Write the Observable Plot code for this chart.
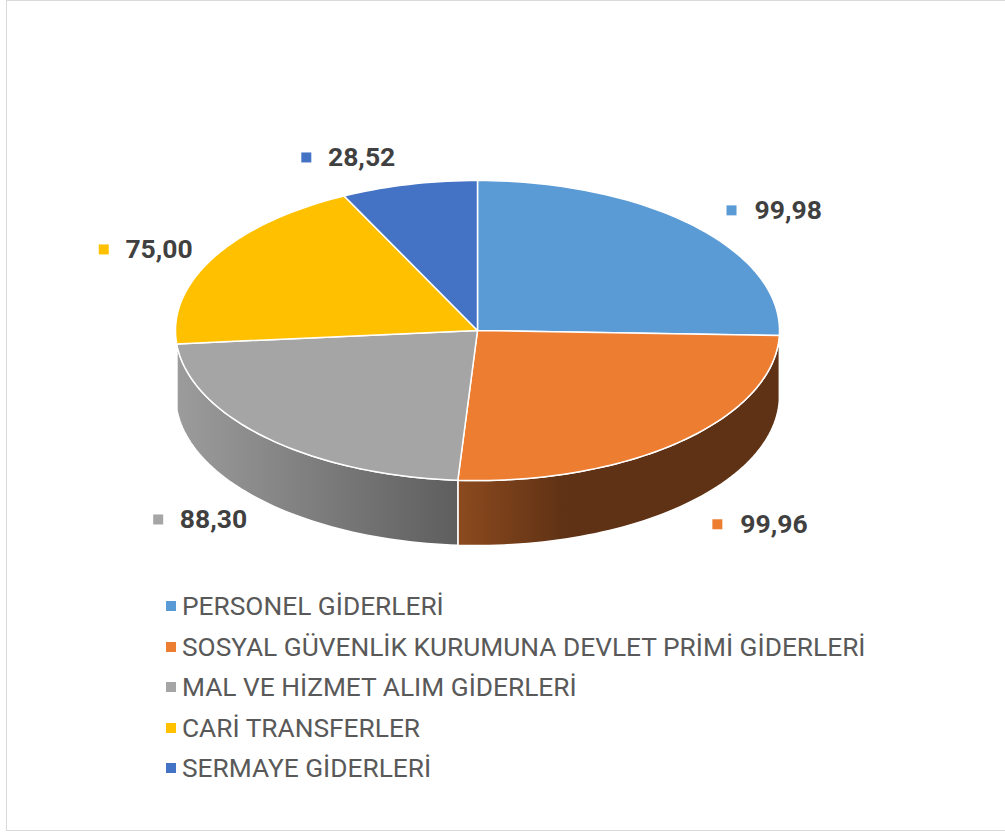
<!DOCTYPE html>
<html>
<head>
<meta charset="utf-8">
<script src="https://cdn.jsdelivr.net/npm/d3@7"></script>
<script src="https://cdn.jsdelivr.net/npm/@observablehq/plot@0.6"></script>
<style>
  body { margin: 0; background: #fff; }
  #wrap { position: relative; width: 1005px; height: 834px; overflow: hidden; font-family: Roboto, "Open Sans", sans-serif; }
  #frame { position: absolute; left: 6px; top: 0; width: 1012px; height: 831px; border: 1.5px solid #D9D9D9; box-sizing: border-box; }
  #chart { position: absolute; left: 0; top: 0; }
  #legend { position: absolute; left: 166px; top: 586px; }
  .row { display: flex; align-items: center; height: 40.5px; font-size: 26.3px; color: #595959; white-space: nowrap; }
  .sw { width: 10px; height: 10px; margin-right: 6px; flex: none; }
</style>
</head>
<body>
<div id="wrap"><div id="frame"></div><div id="chart"></div><div id="legend"></div></div>
<script>
// ---- data ----
const categories = [
  "PERSONEL GİDERLERİ",
  "SOSYAL GÜVENLİK KURUMUNA DEVLET PRİMİ GİDERLERİ",
  "MAL VE HİZMET ALIM GİDERLERİ",
  "CARİ TRANSFERLER",
  "SERMAYE GİDERLERİ"
];
const values = [99.98, 99.96, 88.30, 75.00, 28.52];
const valueLabels = ["99,98", "99,96", "88,30", "75,00", "28,52"];

// ---- styles ----
const colors = ["#5B9BD5", "#ED7D31", "#A5A5A5", "#FFC000", "#4472C4"];
const sideLight = ["#3F75A8", "#8C4A1E", "#9C9C9C", "#C79600", "#30548F"];
const sideDark  = ["#2D5577", "#5F3215", "#5E5E5E", "#8F6C00", "#233E6A"];

// ---- layout (pixels) ----
const W = 1005, H = 580;
const CX = 477, CY = 330, RX = 302;
const TILT = 150 / 302;      // vertical squash of the top ellipse
const DEPTH = 65 / 302;      // thickness of the pie

const arcs = d3.pie().sort(null).value(d => d)(values);

function arcPts(a0, a1, off) {
  const n = Math.max(2, Math.ceil((a1 - a0) / (2 * Math.PI) * 240));
  const pts = [];
  for (let i = 0; i <= n; i++) {
    const t = a0 + (a1 - a0) * i / n;
    pts.push({x: Math.sin(t), y: TILT * Math.cos(t) - off});
  }
  return pts;
}

// top faces
const topPts = [];
arcs.forEach((a, i) => {
  const pts = [{x: 0, y: 0}, ...arcPts(a.startAngle, a.endAngle, 0), {x: 0, y: 0}];
  pts.forEach(p => topPts.push({...p, key: i, fill: colors[i]}));
});

// side walls (front half only)
const sidePts = [];
arcs.forEach((a, i) => {
  const s = Math.max(a.startAngle, Math.PI / 2), e = Math.min(a.endAngle, 3 * Math.PI / 2);
  if (s >= e) return;
  const upper = arcPts(s, e, 0);
  const lower = arcPts(s, e, DEPTH).reverse();
  const pts = [...upper, ...lower, upper[0]];
  pts.forEach(p => sidePts.push({...p, key: i, fill: `url(#side${i})`}));
});

// labels: placed just outside the rim at the mid angle (outside end)
const labels = arcs.map((a, i) => {
  const m = (a.startAngle + a.endAngle) / 2;
  const c = Math.cos(m), s = Math.sin(m);
  const px = s, py = TILT * c - (c < 0 ? DEPTH : 0);
  const offX = s > 0 ? 37 : -(11 + 12 * Math.abs(s));
  const offY = Math.sign(c) * 40 * Math.max(0, Math.abs(c) - 0.3);
  return {
    x: px + offX / RX,
    y: py + offY / RX,
    text: valueLabels[i],
    color: colors[i],
    right: s > 0
  };
});
const rightLabels = labels.filter(d => d.right);
const leftLabels = labels.filter(d => !d.right);

const textStyle = {fontFamily: "Roboto", fontWeight: 700, fontSize: 26.5, fill: "#404040"};

const svg = Plot.plot({
  width: W, height: H, margin: 0,
  x: {domain: [-CX / RX, (W - CX) / RX], range: [0, W], axis: null},
  y: {domain: [-(H - CY) / RX, CY / RX], range: [H, 0], axis: null},
  color: {type: "identity"},
  style: {background: "transparent", overflow: "visible"},
  marks: [
    Plot.line(sidePts, {x: "x", y: "y", z: "key", fill: "fill", stroke: "white", strokeWidth: 1.5, strokeLinejoin: "round"}),
    Plot.line(topPts, {x: "x", y: "y", z: "key", fill: "fill", stroke: "white", strokeWidth: 1.5, strokeLinejoin: "round"}),
    Plot.dot(rightLabels, {x: "x", y: "y", symbol: "square", r: 5.64, fill: "color", stroke: null}),
    Plot.text(rightLabels, {x: "x", y: "y", text: "text", dx: 23, textAnchor: "start", ...textStyle}),
    Plot.dot(leftLabels, {x: "x", y: "y", dx: -89, symbol: "square", r: 5.64, fill: "color", stroke: null}),
    Plot.text(leftLabels, {x: "x", y: "y", text: "text", textAnchor: "end", ...textStyle})
  ]
});

// gradients for the side walls
const defs = d3.select(svg).insert("defs", ":first-child");
colors.forEach((c, i) => {
  const g = defs.append("linearGradient").attr("id", `side${i}`).attr("x1", 0).attr("x2", 1).attr("y1", 0).attr("y2", 0);
  g.append("stop").attr("offset", 0).attr("stop-color", sideLight[i]);
  g.append("stop").attr("offset", i === 1 ? 0.33 : 1).attr("stop-color", sideDark[i]);
  g.append("stop").attr("offset", 1).attr("stop-color", sideDark[i]);
});

document.getElementById("chart").appendChild(svg);

// legend
const legend = d3.select("#legend");
categories.forEach((c, i) => {
  const row = legend.append("div").attr("class", "row");
  row.append("div").attr("class", "sw").style("background", colors[i]);
  row.append("span").text(c);
});
</script>
</body>
</html>
